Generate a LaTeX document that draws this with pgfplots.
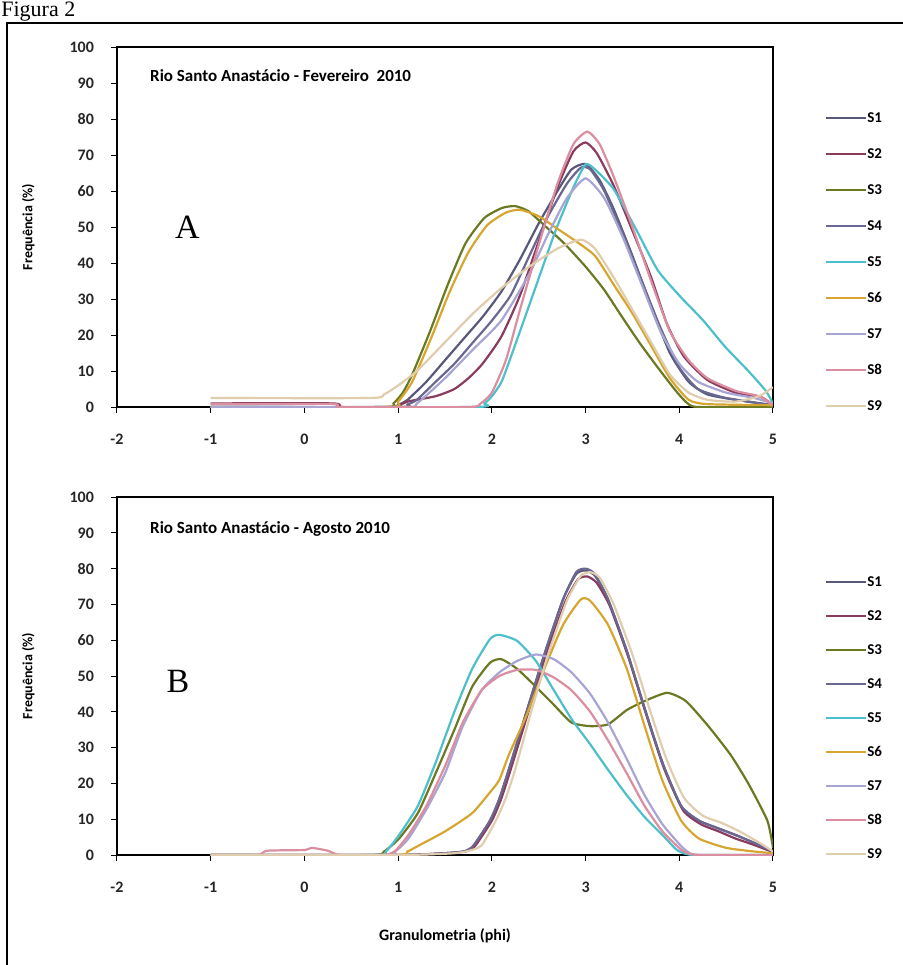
\documentclass[border=0pt]{standalone}
\usepackage{fontspec}
\setmainfont{Carlito}
\newfontfamily\serif{Liberation Serif}
\usepackage{pgfplots}
\pgfplotsset{compat=1.18}

\definecolor{cA}{HTML}{58597A}
\definecolor{cB}{HTML}{8A3B5E}
\definecolor{cC}{HTML}{6B7A22}
\definecolor{cD}{HTML}{6A6790}
\definecolor{cE}{HTML}{4DBFCB}
\definecolor{cF}{HTML}{D6A630}
\definecolor{cG}{HTML}{A7A5D3}
\definecolor{cH}{HTML}{DA8EA0}
\definecolor{cI}{HTML}{E0CDAE}

\pgfplotsset{
  granplot/.style={
    scale only axis,
    width=328pt,
    xmin=-2, xmax=5, ymin=0, ymax=100,
    xtick={-2,...,5},
    xticklabels={-2,-1,0,1,2,3,4,5},
    ytick={0,10,...,100},
    yticklabels={0,10,20,30,40,50,60,70,80,90,100},
    tick pos=left,
    tick align=outside,
    major tick length=3pt,
    tick style={black,line width=0.5pt},
    axis line style={black,line width=0.7pt},
    ticklabel style={font=\fontsize{8}{9}\selectfont\bfseries, text=black!85},
    xticklabel style={yshift=-7pt},
    yticklabel style={xshift=-5pt},
    ylabel={Frequência (\%)},
    ylabel style={font=\fontsize{7}{8}\selectfont\bfseries, at={(axis description cs:-0.115,0.5)}},
    clip=true,
    legend cell align=left,
    legend style={draw=none, fill=none, font=\fontsize{7.5}{8}\selectfont\bfseries,
      anchor=north west, nodes={inner sep=0pt, text height=5pt, text depth=0pt}},
    legend image code/.code={\draw[#1,sharp plot,line width=1pt] (0pt,0pt) -- (20pt,0pt);},
    every axis plot/.append style={smooth, tension=0.35, line width=1.1pt, mark=none},
  }
}

\begin{document}
\begin{tikzpicture}
\path[use as bounding box] (0,0) rectangle (451pt,-482.5pt);
\draw[line width=1pt] (3.5pt,-520pt) -- (3.5pt,-11.5pt) -- (470pt,-11.5pt);
\node[anchor=base west, inner sep=0pt, font=\serif\fontsize{11}{11}\selectfont] at (0.5pt,-8pt) {Figura 2};

% ---- A: Fevereiro 2010
\begin{axis}[granplot, at={(58.5pt,-203.5pt)}, anchor=south west, height=180pt,
  legend style={at={(1.07,0.83)}, row sep=13pt}]
\addplot[cA] coordinates {(-1,0)(0.9,0)(1.0,0.6)(1.1,2)(1.3,7)(1.5,13)(1.7,19)(1.9,25)(2.1,32)(2.3,41)(2.5,51)(2.7,60)(2.85,66)(3.0,67.5)(3.15,63)(3.3,55)(3.5,42)(3.7,28)(3.9,15)(4.1,7)(4.3,3.5)(4.6,2)(5,0.5)};
\addplot[cB] coordinates {(-1,1)(0.3,1)(0.4,0)(0.95,0)(1.1,1.5)(1.4,3)(1.6,5)(1.75,8)(1.9,12)(2.1,19.5)(2.3,31)(2.5,46)(2.7,61)(2.87,71)(3.0,73.5)(3.12,70.5)(3.3,61.5)(3.5,49)(3.7,36)(3.87,23)(4.05,14)(4.3,7.5)(4.6,4)(4.87,2.8)(5,0.5)};
\addplot[cC] coordinates {(-1,0)(0.85,0)(0.95,1)(1.05,4)(1.15,9)(1.34,21)(1.53,34)(1.72,45.5)(1.92,52.5)(2.11,55.3)(2.25,55.8)(2.39,54.4)(2.58,50)(2.77,45.5)(3.0,39)(3.2,32.5)(3.39,25)(3.58,17.7)(3.77,11)(3.96,4.6)(4.08,1.2)(4.2,0)(5,0)};
\addplot[cD] coordinates {(-1,0)(1.0,0)(1.1,0.7)(1.2,2)(1.4,7)(1.6,12)(1.8,18)(2.0,24)(2.2,31)(2.4,42)(2.6,53)(2.8,62)(2.95,66.5)(3.05,66)(3.2,60)(3.4,48)(3.6,35)(3.8,22)(4.0,11)(4.2,5)(4.5,2.5)(5,0.5)};
\addplot[cE] coordinates {(-1,0)(1.8,0)(1.92,1)(2.0,3)(2.11,7.4)(2.3,21)(2.49,35)(2.68,49)(2.87,61)(3.0,67.4)(3.1,66)(3.3,60.5)(3.54,49.3)(3.77,38)(4.01,30.7)(4.25,24.2)(4.49,16.7)(4.73,10.2)(4.92,4.6)(5,1)};
\addplot[cF] coordinates {(-1,0)(0.9,0)(1.0,1.5)(1.15,7)(1.35,19)(1.55,32)(1.75,43)(1.95,50.5)(2.15,54)(2.3,54.8)(2.5,53)(2.7,49.5)(2.9,46)(3.1,42)(3.3,34)(3.5,26)(3.7,17)(3.9,8)(4.1,2)(4.3,0.8)(5,0.5)};
\addplot[cG] coordinates {(-1,0)(1.05,0)(1.2,1)(1.5,8)(1.8,16)(2.1,24)(2.4,37)(2.6,48)(2.8,58)(3.0,63.5)(3.2,58)(3.4,47)(3.6,34)(3.8,21)(4.0,12)(4.2,7)(4.5,4)(4.8,2.5)(5,1)};
\addplot[cH] coordinates {(-1,0.8)(0.3,0.8)(0.4,0)(1.75,0)(1.88,1)(2.0,4)(2.15,13)(2.3,27)(2.5,45)(2.7,62)(2.87,73)(3.02,76.5)(3.15,73)(3.3,64)(3.5,50)(3.7,35)(3.9,21)(4.1,13)(4.3,8)(4.6,4.5)(4.85,3)(5,0.5)};
\addplot[cI] coordinates {(-1,2.5)(0.7,2.5)(0.85,3.5)(1,6)(1.2,10)(1.5,18)(1.8,26)(2.1,33)(2.4,39)(2.7,44)(2.95,46.5)(3.1,44)(3.3,36)(3.5,27)(3.7,18)(3.9,9)(4.1,4)(4.3,2)(4.6,1.5)(4.85,3)(5,5.5)};
\legend{S1,S2,S3,S4,S5,S6,S7,S8,S9}
\node[anchor=west, inner sep=0pt, font=\fontsize{8.5}{9}\selectfont\bfseries] at (axis cs:-1.65,92) {Rio Santo Anastácio - Fevereiro~~2010};
\node[font=\serif\fontsize{17}{17}\selectfont] at (axis cs:-1.25,50) {A};
\end{axis}

% ---- B: Agosto 2010
\begin{axis}[granplot, at={(58.5pt,-427.5pt)}, anchor=south west, height=179pt,
  xlabel={Granulometria (phi)},
  xlabel style={font=\fontsize{8}{9}\selectfont\bfseries, at={(axis description cs:0.5,-0.185)}},
  legend style={at={(1.07,0.79)}, row sep=12pt}]
\addplot[cA] coordinates {(-1,0)(1.0,0)(1.5,0.5)(1.7,1)(1.8,2.5)(1.98,9.6)(2.08,15.7)(2.18,23.8)(2.37,40)(2.56,56)(2.76,71.4)(2.9,78.5)(3.0,79.5)(3.1,78)(3.24,71.4)(3.44,57)(3.63,41)(3.82,25.8)(4.02,13.7)(4.21,9.6)(4.4,7.6)(4.6,5.6)(4.79,3.5)(5,1)};
\addplot[cB] coordinates {(-1,0)(1.0,0)(1.5,0.5)(1.72,1)(1.82,2.5)(2.0,9.6)(2.1,15.7)(2.2,23.8)(2.39,40)(2.58,56)(2.78,70.5)(2.92,77)(3.02,77.8)(3.12,76)(3.26,69.5)(3.46,55)(3.65,39)(3.84,24)(4.04,12.5)(4.23,8.6)(4.42,6.6)(4.6,4.6)(4.8,2.8)(5,0.8)};
\addplot[cC] coordinates {(-1,0)(0.7,0)(0.85,1)(1.01,4.6)(1.21,11.7)(1.4,22.8)(1.6,35)(1.79,47)(1.98,53.7)(2.1,54.7)(2.27,52)(2.47,47)(2.66,42)(2.85,37)(3.05,36)(3.24,36.5)(3.44,40.5)(3.63,43)(3.87,45.3)(4.07,43)(4.31,36)(4.55,27.9)(4.74,19.8)(4.94,9.6)(5,2)};
\addplot[cD] coordinates {(-1,0)(1.0,0)(1.5,0.5)(1.7,1)(1.8,2.5)(1.98,9.6)(2.08,15.7)(2.18,23.8)(2.37,40)(2.56,56)(2.76,71.4)(2.9,79)(3.0,80)(3.1,78.5)(3.24,71.4)(3.44,57)(3.63,41)(3.82,25.8)(4.02,13.7)(4.21,9.6)(4.4,7.6)(4.6,5.6)(4.79,3.5)(5,1)};
\addplot[cE] coordinates {(-1,0)(0.75,0)(0.87,1)(1.01,5.6)(1.21,13.7)(1.4,25.8)(1.6,40)(1.79,52)(1.98,60.3)(2.08,61.5)(2.27,59.8)(2.47,54.2)(2.66,46.1)(2.85,38)(3.05,30.9)(3.24,23.8)(3.44,16.7)(3.63,10.6)(3.82,5.6)(3.97,1.5)(4.07,0.3)(4.2,0)(5,0)};
\addplot[cF] coordinates {(-1,0)(0.95,0)(1.1,1)(1.21,2.5)(1.5,6.6)(1.79,11.7)(1.98,17.5)(2.08,21)(2.18,27.9)(2.37,39)(2.56,52)(2.76,64.3)(2.95,71.4)(3.05,71)(3.24,64.3)(3.44,52)(3.63,36)(3.82,20.8)(4.02,9.6)(4.21,4.6)(4.5,2)(4.79,1)(5,0.5)};
\addplot[cG] coordinates {(-1,0)(0.85,0)(0.97,1)(1.11,4.6)(1.3,12.7)(1.5,22.8)(1.69,36)(1.89,46)(2.08,51)(2.27,54.2)(2.47,56)(2.66,54.7)(2.85,51)(3.05,45)(3.24,37)(3.44,26.8)(3.63,16.7)(3.82,8.6)(4.02,2.5)(4.12,0.4)(4.25,0)(5,0)};
\addplot[cH] coordinates {(-1,0)(-0.5,0)(-0.4,1.2)(0,1.4)(0.08,2)(0.25,1.2)(0.38,0)(0.85,0)(0.97,1.2)(1.11,5.6)(1.3,13.7)(1.5,24.8)(1.69,37)(1.89,46)(2.08,50)(2.27,51.7)(2.47,51.7)(2.66,49.6)(2.85,46)(3.05,40)(3.24,32)(3.44,22.8)(3.63,13.7)(3.82,6.6)(4.02,1.5)(4.12,0.3)(4.25,0)(5,0)};
\addplot[cI] coordinates {(-1,0)(1.0,0)(1.6,0.5)(1.8,1.5)(1.9,3)(2.05,10)(2.15,16)(2.25,24)(2.42,40)(2.6,56)(2.8,71)(2.95,78)(3.05,79)(3.15,77.5)(3.3,70)(3.5,56)(3.68,41)(3.86,27)(4.05,16)(4.25,11)(4.45,9)(4.65,6.5)(4.85,3.5)(5,1)};
\legend{S1,S2,S3,S4,S5,S6,S7,S8,S9}
\node[anchor=west, inner sep=0pt, font=\fontsize{8.5}{9}\selectfont\bfseries] at (axis cs:-1.65,91) {Rio Santo Anastácio - Agosto 2010};
\node[font=\serif\fontsize{17}{17}\selectfont] at (axis cs:-1.35,48.5) {B};
\end{axis}
\end{tikzpicture}
\end{document}
